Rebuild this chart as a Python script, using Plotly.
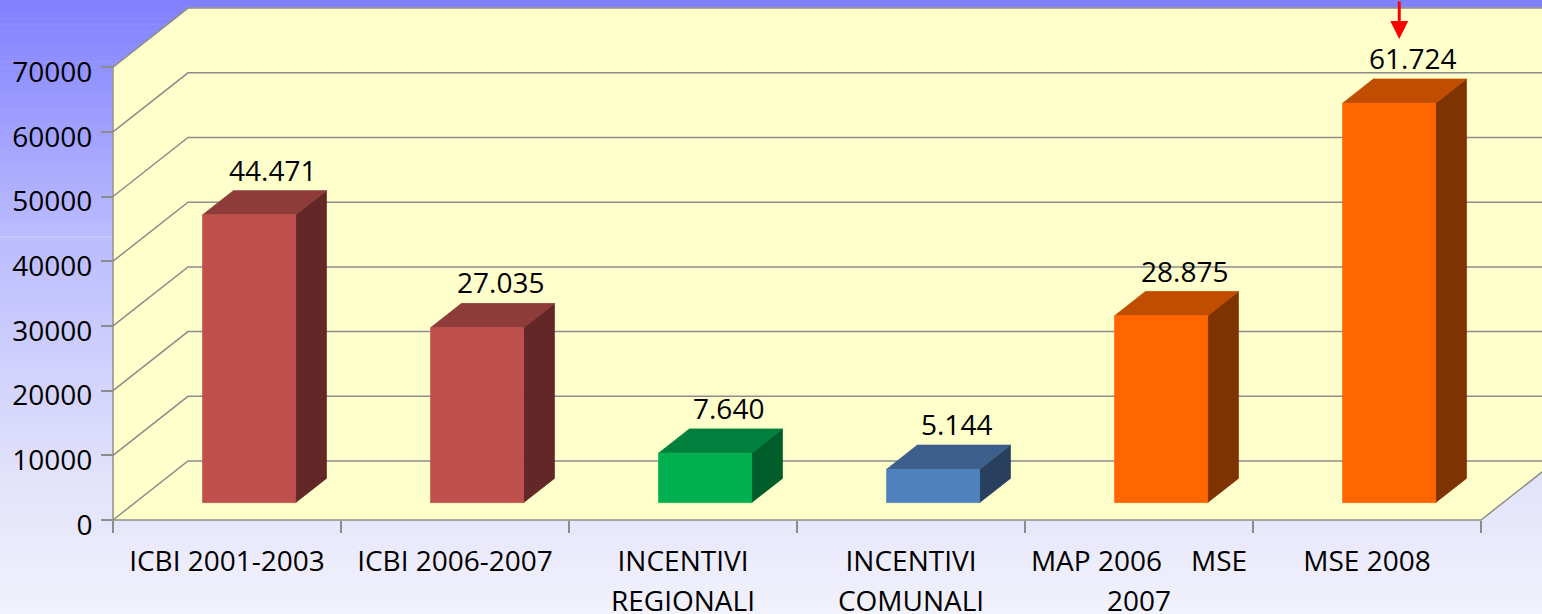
import plotly.graph_objects as go

# ---------------- data ----------------
categories = ["ICBI 2001-2003", "ICBI 2006-2007", "INCENTIVI REGIONALI",
              "INCENTIVI COMUNALI", "MAP 2006 MSE 2007", "MSE 2008"]
label_line1 = ["ICBI 2001-2003", "ICBI 2006-2007", "INCENTIVI", "INCENTIVI",
               "MAP 2006\u00a0\u00a0\u00a0\u00a0MSE", "MSE 2008"]
label_line2 = ["", "", "REGIONALI", "COMUNALI", "2007", ""]
values = [44471, 27035, 7640, 5144, 28875, 61724]
front_colors = ["#C0504D", "#C0504D", "#00B050", "#4F81BD", "#FF6600", "#FF6600"]
top_colors = ["#8E3B39", "#8E3B39", "#00803C", "#3C5F8B", "#C04D00", "#C04D00"]
side_colors = ["#622726", "#622726", "#005C28", "#283F5E", "#7F3300", "#7F3300"]
y_ticks = [0, 10000, 20000, 30000, 40000, 50000, 60000, 70000]

# ---------------- geometry (styling / projection) ----------------
W, H = 1542, 614
CAT_PX = 228.0          # pixels per category
VAL_PX = 0.00647        # pixels per value unit
PAD_L, PAD_B = 10, 10   # plot area slack so edge lines are not clipped
ML = 113 - PAD_L
MB = 614 - 520 - PAD_B
PW, PH = W - ML, H - MB
X0 = -PAD_L / CAT_PX
XMAX = (W - 113) / CAT_PX
Y0 = -PAD_B / VAL_PX
YMAX = 520 / VAL_PX
DX = 75 / CAT_PX        # depth vector in data units
DY = 59 / VAL_PX
N = len(categories)
YTOP = y_ticks[-1]
BW = 93 / CAT_PX
D0, D1 = 0.295, 0.705

WALL = "#FFFFCC"
GRID = "#8C8C8C"

fig = go.Figure()


def poly(xs, ys, fill, line=None, width=0.8):
    fig.add_trace(go.Scatter(
        x=list(xs) + [xs[0]], y=list(ys) + [ys[0]], mode="lines",
        fill="toself", fillcolor=fill,
        line=dict(color=line or fill, width=width),
        hoverinfo="skip", showlegend=False))


def polyline(xs, ys, color=GRID, width=1.5):
    fig.add_trace(go.Scatter(x=xs, y=ys, mode="lines",
                             line=dict(color=color, width=width),
                             hoverinfo="skip", showlegend=False))


# walls
poly([0, 0, DX, DX], [0, YTOP, YTOP + DY, DY], WALL)
poly([DX, DX, XMAX + 2, XMAX + 2], [DY, YTOP + DY, YTOP + DY, DY], WALL)
poly([0, N, N + DX, DX], [0, 0, DY, DY], WALL)

# gridlines (left wall diagonal + back wall horizontal)
gx, gy = [], []
for v in y_ticks:
    gx += [0, DX, XMAX + 2, None]
    gy += [v, v + DY, v + DY, None]
polyline(gx, gy)
# axis edges
polyline([0, 0], [0, YTOP])
polyline([0, N, N + DX], [0, 0, DY])

# bars
annotations = []
for k, v in enumerate(values):
    xl = k + 0.5 - BW / 2
    xr = k + 0.5 + BW / 2
    fx, fy = D0 * DX, D0 * DY
    bx, by = D1 * DX, D1 * DY
    poly([xr + fx, xr + bx, xr + bx, xr + fx], [fy, by, v + by, v + fy], side_colors[k])
    poly([xl + fx, xr + fx, xr + bx, xl + bx], [v + fy, v + fy, v + by, v + by], top_colors[k])
    poly([xl + fx, xr + fx, xr + fx, xl + fx], [fy, fy, v + fy, v + fy], front_colors[k])
    annotations.append(dict(
        x=k + 0.5 + 0.6 * DX, y=v + by, xref="x", yref="y",
        text=f"{v:,}".replace(",", "."), showarrow=False,
        yanchor="middle", yshift=21,
        font=dict(family="Open Sans", size=28, color="black")))

# red arrow pointing at the last bar
kmax = values.index(max(values))
annotations.append(dict(
    x=kmax + 0.5 + 0.43 * DX, y=values[kmax] + D1 * DY + 40 / VAL_PX,
    xref="x", yref="y", text="", showarrow=True,
    arrowhead=2, arrowsize=1.2, arrowwidth=3, arrowcolor="#FF0000",
    ax=0, ay=-50, standoff=0))

# dummy traces for label axes
fig.add_trace(go.Scatter(x=[None], y=[None], xaxis="x2", showlegend=False, hoverinfo="skip"))
fig.add_trace(go.Scatter(x=[None], y=[None], xaxis="x3", showlegend=False, hoverinfo="skip"))

# background gradient
stops = [(0, (128, 128, 255)), (230, (186, 186, 255)), (470, (225, 225, 251)), (614, (242, 242, 252))]


def col_at(yp):
    for (y1, c1), (y2, c2) in zip(stops[:-1], stops[1:]):
        if y1 <= yp <= y2:
            t = (yp - y1) / (y2 - y1)
            return tuple(round(a + (b - a) * t) for a, b in zip(c1, c2))
    return stops[-1][1]


shapes = []
NB = 100
for i in range(NB):
    ytop = H * i / NB
    ybot = H * (i + 1) / NB
    c = col_at((ytop + ybot) / 2)
    shapes.append(dict(
        type="rect", xref="paper", yref="paper", layer="below",
        x0=-ML / PW, x1=1.01,
        y0=(H - MB - ybot) / PH - 0.0005, y1=(H - MB - ytop) / PH + 0.0005,
        fillcolor=f"rgb{c}", line=dict(width=0)))
# faint light line on the left
shapes.append(dict(type="line", xref="paper", yref="paper", layer="below",
                   x0=-ML / PW, x1=PAD_L / PW,
                   y0=(H - MB - 237) / PH, y1=(H - MB - 237) / PH,
                   line=dict(color="rgb(210,210,255)", width=1)))

font = dict(family="Open Sans", size=28, color="black")
centers = [k + 0.5 for k in range(N)]
xpos = PAD_B / PH

fig.update_layout(
    width=W, height=H, autosize=False,
    margin=dict(l=ML, r=0, t=0, b=MB, pad=0, autoexpand=False),
    paper_bgcolor="#F2F2FC", plot_bgcolor="rgba(0,0,0,0)",
    showlegend=False, hovermode=False,
    shapes=shapes, annotations=annotations,
    xaxis=dict(range=[X0, XMAX], anchor="free", position=xpos, automargin=False,
               tickmode="array", tickvals=list(range(N + 1)),
               ticks="outside", ticklen=12, tickwidth=1.5, tickcolor=GRID,
               showticklabels=False, showgrid=False, zeroline=False, showline=False),
    xaxis2=dict(range=[X0, XMAX], anchor="free", position=xpos, overlaying="x",
                automargin=False,
                side="bottom", tickmode="array", tickvals=centers, ticktext=label_line1,
                ticks="", tickfont=font, ticklabelstandoff=22,
                showgrid=False, zeroline=False, showline=False),
    xaxis3=dict(range=[X0, XMAX], anchor="free", position=xpos, overlaying="x",
                automargin=False,
                side="bottom", tickmode="array", tickvals=centers, ticktext=label_line2,
                ticks="", tickfont=font, ticklabelstandoff=62,
                showgrid=False, zeroline=False, showline=False),
    yaxis=dict(range=[Y0, YMAX], anchor="free", position=PAD_L / PW, automargin=False,
               tickmode="array", tickvals=y_ticks, ticktext=[str(v) for v in y_ticks],
               ticks="outside", ticklen=12, tickwidth=1.5, tickcolor=GRID,
               tickfont=font, ticklabelstandoff=3, ticklabelshift=5,
               showgrid=False, zeroline=False, showline=False),
)

fig.write_html("out.html", config={"displayModeBar": False},
               post_script="document.body.style.margin='0';")
